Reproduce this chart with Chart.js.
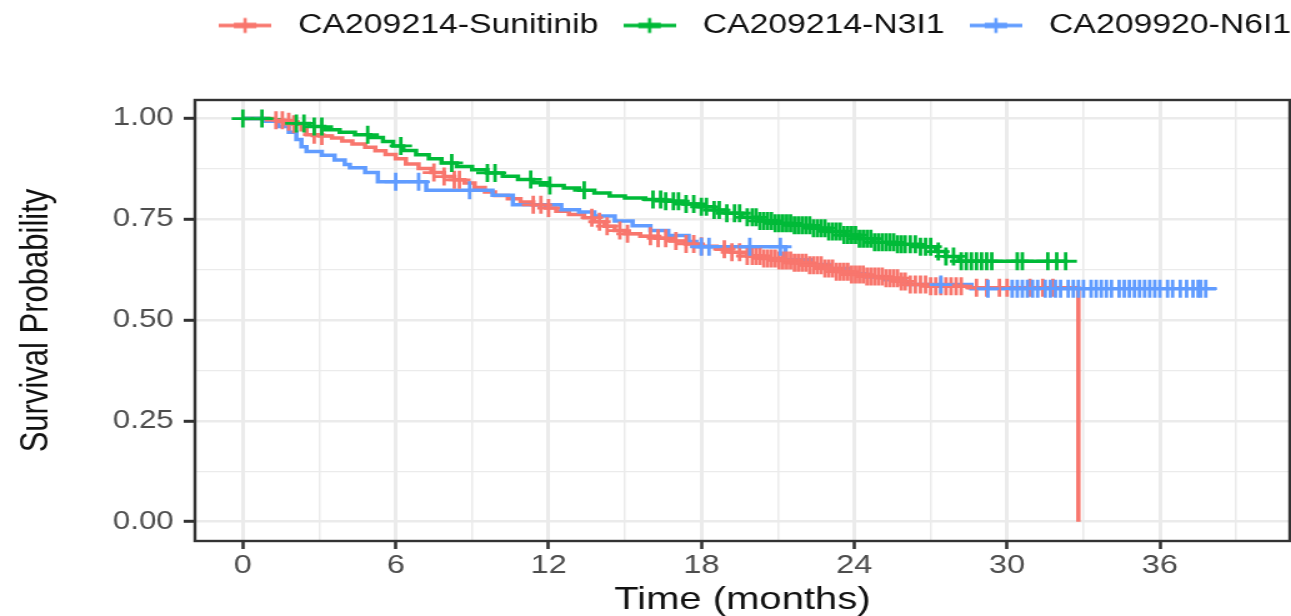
<!DOCTYPE html>
<html>
<head>
<meta charset="utf-8">
<title>Overall survival by trial arm</title>
<script src="https://cdn.jsdelivr.net/npm/chart.js@4.4.1/dist/chart.umd.min.js"></script>
<style>
  html, body { margin: 0; padding: 0; background: #fff; overflow: hidden; }
  /* the plot is laid out on a narrower canvas and stretched to full width */
  #wrap { width: 1033px; height: 616px; transform: scaleX(1.2498); transform-origin: 0 0; }
</style>
</head>
<body>
<div id="wrap"><canvas id="kmChart" width="1033" height="616"></canvas></div>
<script>

// --------------------------------------------------------------------------
//
//                            survival data
//
// --------------------------------------------------------------------------

const seriesNames = ['CA209214-Sunitinib', 'CA209214-N3I1', 'CA209920-N6I1'];

// CA209214 sunitinib arm: event times (months) and survival after each event
const sunitinibTimes = [0, 1.2, 1.6, 2.0, 2.3, 2.5, 3.0, 3.5, 3.9, 4.3, 4.8, 5.2, 5.6, 6.0, 6.4, 6.9,
    7.4, 7.9, 8.3, 8.7, 9.1, 9.5, 9.9, 10.4, 10.9, 11.4, 11.9, 12.3, 12.8, 13.4, 13.8, 14.2, 14.6,
    15.0, 15.6, 16.2, 16.8, 17.4, 18.0, 18.6, 19.2, 19.8, 20.4, 21.0, 21.6, 22.2, 22.8, 23.3, 23.9,
    24.5, 25.2, 25.8, 26.1, 27.0, 28.5, 32.8];
const sunitinibSurv = [1.0, 0.996, 0.992, 0.986, 0.972, 0.96, 0.957, 0.952, 0.944, 0.937, 0.929, 0.92,
    0.911, 0.9, 0.887, 0.876, 0.866, 0.856, 0.848, 0.84, 0.829, 0.818, 0.809, 0.801, 0.793, 0.786,
    0.778, 0.77, 0.762, 0.754, 0.744, 0.733, 0.722, 0.714, 0.708, 0.703, 0.696, 0.689, 0.683, 0.676,
    0.668, 0.659, 0.653, 0.648, 0.642, 0.636, 0.628, 0.62, 0.613, 0.608, 0.604, 0.596, 0.588, 0.584,
    0.58, 0.0];
const sunitinibCensored = [1.3, 1.55, 1.8, 2.0, 2.8, 3.1, 7.5, 7.9, 8.3, 8.5, 11.4, 11.7, 12.0, 13.7,
    14.0, 14.3, 14.8, 15.1, 16.0, 16.3, 16.6, 17.0, 17.4, 17.7, 18.0, 18.9, 19.2, 19.5, 19.8, 20.0,
    20.15, 20.3, 20.45, 20.6, 20.75, 20.9, 21.05, 21.2, 21.35, 21.5, 21.65, 21.8, 21.95, 22.1, 22.25,
    22.4, 22.55, 22.7, 22.85, 23.0, 23.15, 23.3, 23.45, 23.6, 23.75, 23.9, 24.05, 24.2, 24.35, 24.5,
    24.65, 24.8, 24.95, 25.1, 25.25, 25.4, 25.55, 25.7, 25.85, 26.0, 26.2, 26.4, 26.6, 26.8, 27.0,
    27.2, 27.4, 27.6, 27.8, 28.0, 28.2, 28.8, 29.2, 29.7, 30.0, 30.9, 31.4, 31.8];
const sunitinibLastFollowUp = 32.8;

// CA209214 nivolumab 3 mg/kg + ipilimumab 1 mg/kg arm
const n3i1Times = [0, 1.0, 1.5, 2.0, 2.6, 3.2, 3.8, 4.4, 5.0, 5.5, 5.9, 6.3, 6.8, 7.3, 7.8, 8.4, 9.0,
    9.6, 10.2, 10.8, 11.4, 12.0, 12.6, 13.2, 13.8, 14.4, 15.0, 15.8, 16.6, 17.3, 17.9, 18.5, 19.0,
    19.6, 20.2, 20.9, 21.6, 22.3, 23.0, 23.6, 24.2, 24.8, 25.6, 26.6, 27.2, 27.6, 28.1];
const n3i1Surv = [1.0, 0.997, 0.993, 0.988, 0.98, 0.972, 0.966, 0.96, 0.953, 0.943, 0.932, 0.921, 0.91,
    0.9, 0.89, 0.881, 0.873, 0.865, 0.857, 0.849, 0.841, 0.834, 0.828, 0.822, 0.815, 0.808, 0.803,
    0.799, 0.795, 0.788, 0.781, 0.773, 0.765, 0.755, 0.746, 0.74, 0.735, 0.728, 0.72, 0.711, 0.702,
    0.693, 0.688, 0.682, 0.67, 0.658, 0.646];
const n3i1Censored = [0, 0.75, 2.1, 2.4, 2.8, 3.1, 4.9, 6.2, 8.2, 9.6, 9.9, 11.3, 12.05, 13.4, 16.1,
    16.4, 16.6, 16.9, 17.1, 17.4, 17.7, 18.0, 18.2, 18.5, 18.7, 19.0, 19.3, 19.5, 19.8, 20.0, 20.15,
    20.3, 20.45, 20.6, 20.75, 20.9, 21.05, 21.2, 21.35, 21.5, 21.65, 21.8, 21.95, 22.1, 22.25, 22.4,
    22.55, 22.7, 22.85, 23.0, 23.15, 23.3, 23.45, 23.6, 23.75, 23.9, 24.05, 24.2, 24.35, 24.5, 24.65,
    24.8, 24.95, 25.1, 25.25, 25.4, 25.55, 25.7, 25.85, 26.0, 26.2, 26.4, 26.6, 26.8, 27.0, 27.3,
    27.6, 27.9, 28.2, 28.4, 28.6, 28.8, 29.0, 29.2, 29.4, 30.4, 30.6, 31.6, 31.95, 32.3];
const n3i1LastFollowUp = 32.3;

// CA209920 nivolumab 6 mg/kg + ipilimumab 1 mg/kg arm
const n6i1Times = [0, 0.8, 1.4, 1.8, 2.1, 2.3, 2.5, 3.1, 3.6, 4.0, 4.2, 4.8, 5.3, 7.2, 9.8, 10.6,
    12.5, 13.2, 13.8, 14.6, 15.3, 16.0, 16.7, 17.5, 17.8, 21.3, 22.3, 23.0, 23.8, 24.5, 25.2, 26.0,
    28.6];
const n6i1Surv = [1.0, 0.993, 0.98, 0.966, 0.948, 0.93, 0.918, 0.909, 0.897, 0.886, 0.878, 0.866,
    0.843, 0.822, 0.81, 0.786, 0.774, 0.768, 0.758, 0.746, 0.734, 0.722, 0.71, 0.695, 0.682, 0.65,
    0.638, 0.628, 0.615, 0.607, 0.6, 0.588, 0.578];
const n6i1Censored = [6.0, 6.9, 8.9, 18.0, 18.3, 19.9, 21.1, 27.4, 29.25, 30.2, 30.4, 30.6, 30.8,
    31.0, 31.2, 31.5, 31.7, 31.9, 32.1, 32.4, 32.6, 32.8, 33.0, 33.3, 33.5, 33.7, 33.9, 34.1, 34.4,
    34.6, 34.8, 35.0, 35.2, 35.4, 35.6, 35.8, 36.0, 36.3, 36.5, 36.8, 37.05, 37.3, 37.5, 37.6, 37.8];
const n6i1LastFollowUp = 38.2;

const xMajorTicks = [0, 6, 12, 18, 24, 30, 36];
const xGridTicks = [0, 3, 6, 9, 12, 15, 18, 21, 24, 27, 30, 33, 36, 39];
const yMajorTicks = [0, 0.25, 0.5, 0.75, 1];
const yGridTicks = [0, 0.125, 0.25, 0.375, 0.5, 0.625, 0.75, 0.875, 1];

const colours = ['#F8766D', '#00BA38', '#619CFF'];

// --------------------------------------------------------------------------
//
//                            helpers
//
// --------------------------------------------------------------------------

// step curve points, carried on to the last follow-up time
function curvePoints(times, surv, lastFollowUp) {
    const points = times.map((t, i) => ({ x: t, y: surv[i] }));
    if (lastFollowUp > times[times.length - 1]) {
        points.push({ x: lastFollowUp, y: surv[surv.length - 1] });
    }
    return points;
}

// survival level of the curve at time t
function survivalAt(times, surv, t) {
    let s = surv[0];
    for (let i = 0; i < times.length; i++) {
        if (times[i] <= t) s = surv[i];
    }
    return s;
}

function censorPoints(times, surv, censored) {
    return censored.map(t => ({ x: t, y: survivalAt(times, surv, t) }));
}

// legend key: a line with a censor cross on it
function legendKey(colour) {
    const c = document.createElement('canvas');
    c.width = 42;
    c.height = 20;
    const g = c.getContext('2d');
    g.strokeStyle = colour;
    g.lineWidth = 3.5;
    g.beginPath();
    g.moveTo(0, 10);
    g.lineTo(42, 10);
    g.stroke();
    g.lineWidth = 5.5;
    g.beginPath();
    g.moveTo(12, 10);
    g.lineTo(30, 10);
    g.stroke();
    g.lineWidth = 2.6;
    g.beginPath();
    g.moveTo(21, 2.5);
    g.lineTo(21, 17.5);
    g.stroke();
    return c;
}

// --------------------------------------------------------------------------
//
//                            plugins
//
// --------------------------------------------------------------------------

// legend band: fixed height above the panel, row nudged to the right
const legendBand = {
    id: 'legendBand',
    beforeInit(chart) {
        if (!chart.legend) return;
        const fit = chart.legend.fit;
        chart.legend.fit = function () {
            fit.call(this);
            this.height = 100;
        };
    },
    afterLayout(chart) {
        if (!chart.legend) return;
        chart.legend.left += 13;
        chart.legend.right += 13;
    }
};

const panelBorder = {
    id: 'panelBorder',
    afterDraw(chart) {
        const { ctx, chartArea: a } = chart;
        ctx.save();
        ctx.strokeStyle = '#333333';
        ctx.lineWidth = 2.4;
        ctx.strokeRect(a.left, a.top, a.right - a.left, a.bottom - a.top);
        ctx.restore();
    }
};

// --------------------------------------------------------------------------
//
//                            display chart
//
// --------------------------------------------------------------------------

function displaySurvivalChart() {

    Chart.defaults.font.family = '"Liberation Sans", Arial, Helvetica, sans-serif';

    const curves = [
        [sunitinibTimes, sunitinibSurv, sunitinibCensored, sunitinibLastFollowUp],
        [n3i1Times, n3i1Surv, n3i1Censored, n3i1LastFollowUp],
        [n6i1Times, n6i1Surv, n6i1Censored, n6i1LastFollowUp]
    ];

    const lineSets = curves.map(([times, surv, , last], i) => ({
        label: seriesNames[i],
        data: curvePoints(times, surv, last),
        borderColor: colours[i],
        borderWidth: 3.5,
        stepped: true,
        fill: false,
        pointRadius: 0,
        pointStyle: legendKey(colours[i]),
        order: 6 - i
    }));

    const censorSets = curves.map(([times, surv, censored], i) => ({
        label: seriesNames[i] + ' censored',
        data: censorPoints(times, surv, censored),
        showLine: false,
        pointStyle: 'cross',
        pointRadius: 9,
        pointBorderWidth: 2.8,
        pointBorderColor: colours[i],
        borderColor: colours[i],
        order: 3 - i
    }));

    const isMajorX = ctx => ctx.tick && xMajorTicks.includes(ctx.tick.value);
    const isMajorY = ctx => ctx.tick && yMajorTicks.includes(ctx.tick.value);

    const options = {
        responsive: false,
        animation: false,
        events: [],
        layout: { autoPadding: false, padding: { top: 0, left: 0, right: 1, bottom: 0 } },
        scales: {
            x: {
                type: 'linear',
                min: -1.88,
                max: 41.1,
                afterBuildTicks: axis => { axis.ticks = xGridTicks.map(v => ({ value: v })); },
                afterFit: axis => { axis.height = 75; },
                ticks: {
                    autoSkip: false,
                    maxRotation: 0,
                    padding: 1,
                    color: '#4d4d4d',
                    font: { size: 26 },
                    callback: v => xMajorTicks.includes(v) ? String(v) : ''
                },
                grid: {
                    color: '#ebebeb',
                    lineWidth: ctx => isMajorX(ctx) ? 3 : 1.5,
                    tickLength: 8,
                    tickWidth: 2.6,
                    tickColor: ctx => isMajorX(ctx) ? '#333333' : 'rgba(0,0,0,0)'
                },
                border: { display: false },
                title: {
                    display: true,
                    text: 'Time (months)',
                    color: '#111111',
                    font: { size: 32, lineHeight: 1 },
                    padding: { top: 0, bottom: 0 }
                }
            },
            y: {
                type: 'linear',
                min: -0.048,
                max: 1.046,
                afterBuildTicks: axis => { axis.ticks = yGridTicks.map(v => ({ value: v })); },
                afterFit: axis => { axis.width = 156; },
                ticks: {
                    autoSkip: false,
                    padding: 8,
                    color: '#4d4d4d',
                    font: { size: 25 },
                    callback: v => yMajorTicks.includes(v) ? v.toFixed(2) : ''
                },
                grid: {
                    color: '#ebebeb',
                    lineWidth: ctx => isMajorY(ctx) ? 2.6 : 1.3,
                    tickLength: 9,
                    tickWidth: 3,
                    tickColor: ctx => isMajorY(ctx) ? '#333333' : 'rgba(0,0,0,0)'
                },
                border: { display: false },
                title: {
                    display: true,
                    text: 'Survival Probability',
                    color: '#111111',
                    font: { size: 31, lineHeight: 1 },
                    padding: { top: 14, bottom: 0 }
                }
            }
        },
        plugins: {
            tooltip: { enabled: false },
            legend: {
                position: 'top',
                align: 'end',
                labels: {
                    usePointStyle: true,
                    pointStyleWidth: 58,
                    padding: 12,
                    color: '#111111',
                    font: { size: 27 },
                    filter: item => item.datasetIndex < 3,
                    sort: (a, b) => a.datasetIndex - b.datasetIndex
                }
            }
        }
    };

    window.kmChart = new Chart(document.getElementById('kmChart').getContext('2d'), {
        type: 'line',
        data: { datasets: lineSets.concat(censorSets) },
        options: options,
        plugins: [legendBand, panelBorder]
    });
}

displaySurvivalChart();
</script>
</body>
</html>
